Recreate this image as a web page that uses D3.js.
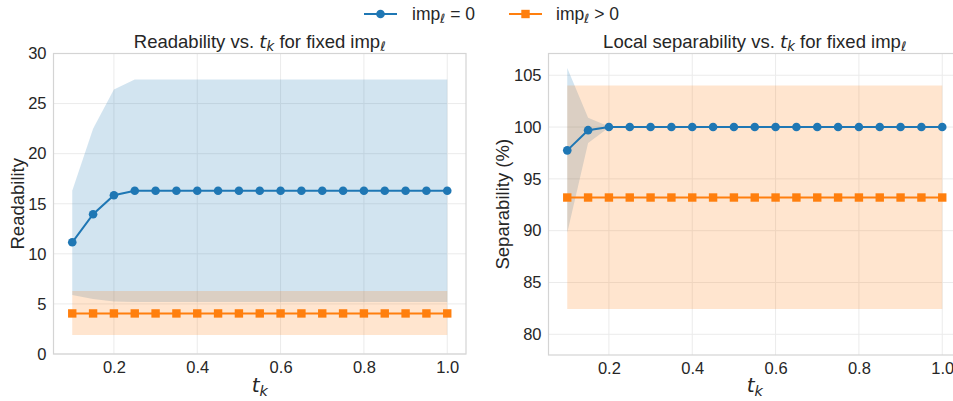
<!DOCTYPE html>
<html>
<head>
<meta charset="utf-8">
<script src="https://cdn.jsdelivr.net/npm/d3@7"></script>
<style>
  html, body { margin: 0; padding: 0; background: #fff; }
  svg { display: block; font-family: "Liberation Sans", Arial, sans-serif; }
</style>
</head>
<body>
<svg id="chart" width="953" height="401"></svg>
<script>
// t_k sweep values
const tk = [0.1, 0.15, 0.2, 0.25, 0.3, 0.35, 0.4, 0.45, 0.5, 0.55, 0.6, 0.65, 0.7, 0.75, 0.8, 0.85, 0.9, 0.95, 1.0];

// Readability, imp_l = 0
const readZeroMean  = [11.15, 13.95, 15.85, 16.3, 16.3, 16.3, 16.3, 16.3, 16.3, 16.3, 16.3, 16.3, 16.3, 16.3, 16.3, 16.3, 16.3, 16.3, 16.3];
const readZeroUpper = [16.3, 22.5, 26.4, 27.4, 27.4, 27.4, 27.4, 27.4, 27.4, 27.4, 27.4, 27.4, 27.4, 27.4, 27.4, 27.4, 27.4, 27.4, 27.4];
const readZeroLower = [5.9, 5.5, 5.25, 5.2, 5.2, 5.2, 5.2, 5.2, 5.2, 5.2, 5.2, 5.2, 5.2, 5.2, 5.2, 5.2, 5.2, 5.2, 5.2];
// Readability, imp_l > 0
const readPosMean  = [4.05, 4.05, 4.05, 4.05, 4.05, 4.05, 4.05, 4.05, 4.05, 4.05, 4.05, 4.05, 4.05, 4.05, 4.05, 4.05, 4.05, 4.05, 4.05];
const readPosUpper = [6.3, 6.3, 6.3, 6.3, 6.3, 6.3, 6.3, 6.3, 6.3, 6.3, 6.3, 6.3, 6.3, 6.3, 6.3, 6.3, 6.3, 6.3, 6.3];
const readPosLower = [1.9, 1.9, 1.9, 1.9, 1.9, 1.9, 1.9, 1.9, 1.9, 1.9, 1.9, 1.9, 1.9, 1.9, 1.9, 1.9, 1.9, 1.9, 1.9];

// Local separability (%), imp_l = 0
const sepZeroMean  = [97.75, 99.7, 100, 100, 100, 100, 100, 100, 100, 100, 100, 100, 100, 100, 100, 100, 100, 100, 100];
const sepZeroUpper = [105.7, 100.9, 100.05, 100, 100, 100, 100, 100, 100, 100, 100, 100, 100, 100, 100, 100, 100, 100, 100];
const sepZeroLower = [89.8, 98.45, 99.95, 100, 100, 100, 100, 100, 100, 100, 100, 100, 100, 100, 100, 100, 100, 100, 100];
// Local separability (%), imp_l > 0
const sepPosMean  = [93.2, 93.2, 93.2, 93.2, 93.2, 93.2, 93.2, 93.2, 93.2, 93.2, 93.2, 93.2, 93.2, 93.2, 93.2, 93.2, 93.2, 93.2, 93.2];
const sepPosUpper = [104, 104, 104, 104, 104, 104, 104, 104, 104, 104, 104, 104, 104, 104, 104, 104, 104, 104, 104];
const sepPosLower = [82.45, 82.45, 82.45, 82.45, 82.45, 82.45, 82.45, 82.45, 82.45, 82.45, 82.45, 82.45, 82.45, 82.45, 82.45, 82.45, 82.45, 82.45, 82.45];

const xTicks = [0.2, 0.4, 0.6, 0.8, 1.0];
const readTicks = [0, 5, 10, 15, 20, 25, 30];
const sepTicks = [80, 85, 90, 95, 100, 105];

const BLUE = "#1f77b4", ORANGE = "#ff7f0e";
const TEXT = "#262626";
const MATH = "'DejaVu Sans', sans-serif";

const svg = d3.select("#chart");

// Append label pieces, with italic / subscript parts for the math symbols
function mathLabel(sel, parts) {
  parts.forEach(p => {
    const t = sel.append("tspan").text(p.text);
    if (p.italic) t.attr("font-style", "italic").attr("font-family", MATH);
    if (p.sub) t.attr("baseline-shift", "-25%").attr("font-size", "0.72em");
  });
}

function panel(cfg) {
  const W = 412.5;
  const x = d3.scaleLinear().domain([0.055, 1.045]).range([cfg.left, cfg.left + W]);
  const y = d3.scaleLinear().domain(cfg.yDomain).range([cfg.bottom, cfg.top]);
  const g = svg.append("g");
  const clipId = "clip" + cfg.id;
  svg.append("clipPath").attr("id", clipId).append("rect")
    .attr("x", cfg.left).attr("y", cfg.top)
    .attr("width", W).attr("height", cfg.bottom - cfg.top);

  // grid
  const grid = g.append("g").attr("stroke", "#ebebeb").attr("stroke-width", 1);
  grid.selectAll(".gx").data(xTicks).join("line")
    .attr("x1", d => x(d)).attr("x2", d => x(d))
    .attr("y1", cfg.top).attr("y2", cfg.bottom);
  grid.selectAll(".gy").data(cfg.yTicks).join("line")
    .attr("x1", cfg.left).attr("x2", cfg.left + W)
    .attr("y1", d => y(d)).attr("y2", d => y(d));

  const plot = g.append("g").attr("clip-path", `url(#${clipId})`);

  // shaded spread bands
  const area = (lo, hi) => d3.area()
    .x((d, i) => x(tk[i])).y0((d, i) => y(lo[i])).y1((d, i) => y(hi[i]))(tk);
  plot.append("path").attr("d", area(cfg.zLo, cfg.zHi)).attr("fill", BLUE).attr("fill-opacity", 0.2);
  plot.append("path").attr("d", area(cfg.pLo, cfg.pHi)).attr("fill", ORANGE).attr("fill-opacity", 0.2);

  // mean lines with markers
  const line = d3.line().x((d, i) => x(tk[i])).y(d => y(d));
  plot.append("path").attr("d", line(cfg.zMean)).attr("fill", "none").attr("stroke", BLUE).attr("stroke-width", 2);
  plot.selectAll(".cz").data(cfg.zMean).join("circle")
    .attr("cx", (d, i) => x(tk[i])).attr("cy", d => y(d)).attr("r", 4.3).attr("fill", BLUE);
  plot.append("path").attr("d", line(cfg.pMean)).attr("fill", "none").attr("stroke", ORANGE).attr("stroke-width", 2);
  plot.selectAll(".sp").data(cfg.pMean).join("rect")
    .attr("x", (d, i) => x(tk[i]) - 4.2).attr("y", d => y(d) - 4.2)
    .attr("width", 8.4).attr("height", 8.4).attr("fill", ORANGE);

  // frame
  g.append("rect").attr("x", cfg.left).attr("y", cfg.top)
    .attr("width", W).attr("height", cfg.bottom - cfg.top)
    .attr("fill", "none").attr("stroke", "#d4d4d4").attr("stroke-width", 1.2);

  // axes: tick labels only, no tick marks
  const xa = g.append("g").attr("transform", `translate(0,${cfg.bottom})`)
    .call(d3.axisBottom(x).tickValues(xTicks).tickFormat(d3.format(".1f")).tickSize(0).tickPadding(7));
  const ya = g.append("g").attr("transform", `translate(${cfg.left},0)`)
    .call(d3.axisLeft(y).tickValues(cfg.yTicks).tickFormat(d3.format("d")).tickSize(0).tickPadding(7));
  [xa, ya].forEach(a => {
    a.select(".domain").remove();
    a.selectAll("text").attr("font-size", 16.5).attr("fill", TEXT)
      .attr("font-family", "'Liberation Sans', Arial, sans-serif");
  });

  const cx = cfg.left + W / 2;
  // title
  const title = g.append("text").attr("x", cx).attr("y", 48)
    .attr("text-anchor", "middle").attr("font-size", 18.5).attr("fill", TEXT);
  mathLabel(title, [
    { text: cfg.title + " vs. " },
    { text: "t", italic: true },
    { text: "k", italic: true, sub: true },
    { text: " for fixed imp" },
    { text: "ℓ", italic: true, sub: true }
  ]);

  // x label
  const xl = g.append("text").attr("x", cx).attr("y", 392)
    .attr("text-anchor", "middle").attr("font-size", 20).attr("fill", TEXT);
  mathLabel(xl, [{ text: "t", italic: true }, { text: "k", italic: true, sub: true }]);

  // y label
  g.append("text")
    .attr("transform", `translate(${cfg.yLabelX},${(cfg.top + cfg.bottom) / 2}) rotate(-90)`)
    .attr("text-anchor", "middle").attr("font-size", 18.5).attr("fill", TEXT)
    .text(cfg.yLabel);
}

panel({
  id: "read", left: 53.5, top: 53.5, bottom: 354, yDomain: [0, 30], yTicks: readTicks,
  zMean: readZeroMean, zLo: readZeroLower, zHi: readZeroUpper,
  pMean: readPosMean, pLo: readPosLower, pHi: readPosUpper,
  title: "Readability", yLabel: "Readability", yLabelX: 24
});

panel({
  id: "sep", left: 548.5, top: 53.5, bottom: 355, yDomain: [78, 107.1], yTicks: sepTicks,
  zMean: sepZeroMean, zLo: sepZeroLower, zHi: sepZeroUpper,
  pMean: sepPosMean, pLo: sepPosLower, pHi: sepPosUpper,
  title: "Local separability", yLabel: "Separability (%)", yLabelX: 509
});

// legend
const legend = svg.append("g");
const items = [
  { color: BLUE, shape: "circle", x0: 364, tx: 412, rel: " = 0" },
  { color: ORANGE, shape: "square", x0: 509, tx: 556, rel: " > 0" }
];
items.forEach(it => {
  legend.append("line").attr("x1", it.x0).attr("x2", it.x0 + 33).attr("y1", 14).attr("y2", 14)
    .attr("stroke", it.color).attr("stroke-width", 2);
  if (it.shape === "circle") {
    legend.append("circle").attr("cx", it.x0 + 16.5).attr("cy", 14).attr("r", 4.3).attr("fill", it.color);
  } else {
    legend.append("rect").attr("x", it.x0 + 12.3).attr("y", 9.8).attr("width", 8.4).attr("height", 8.4).attr("fill", it.color);
  }
  const t = legend.append("text").attr("x", it.tx).attr("y", 19.5).attr("font-size", 17.5).attr("fill", TEXT);
  mathLabel(t, [{ text: "imp" }, { text: "ℓ", italic: true, sub: true }, { text: it.rel }]);
});
</script>
</body>
</html>
